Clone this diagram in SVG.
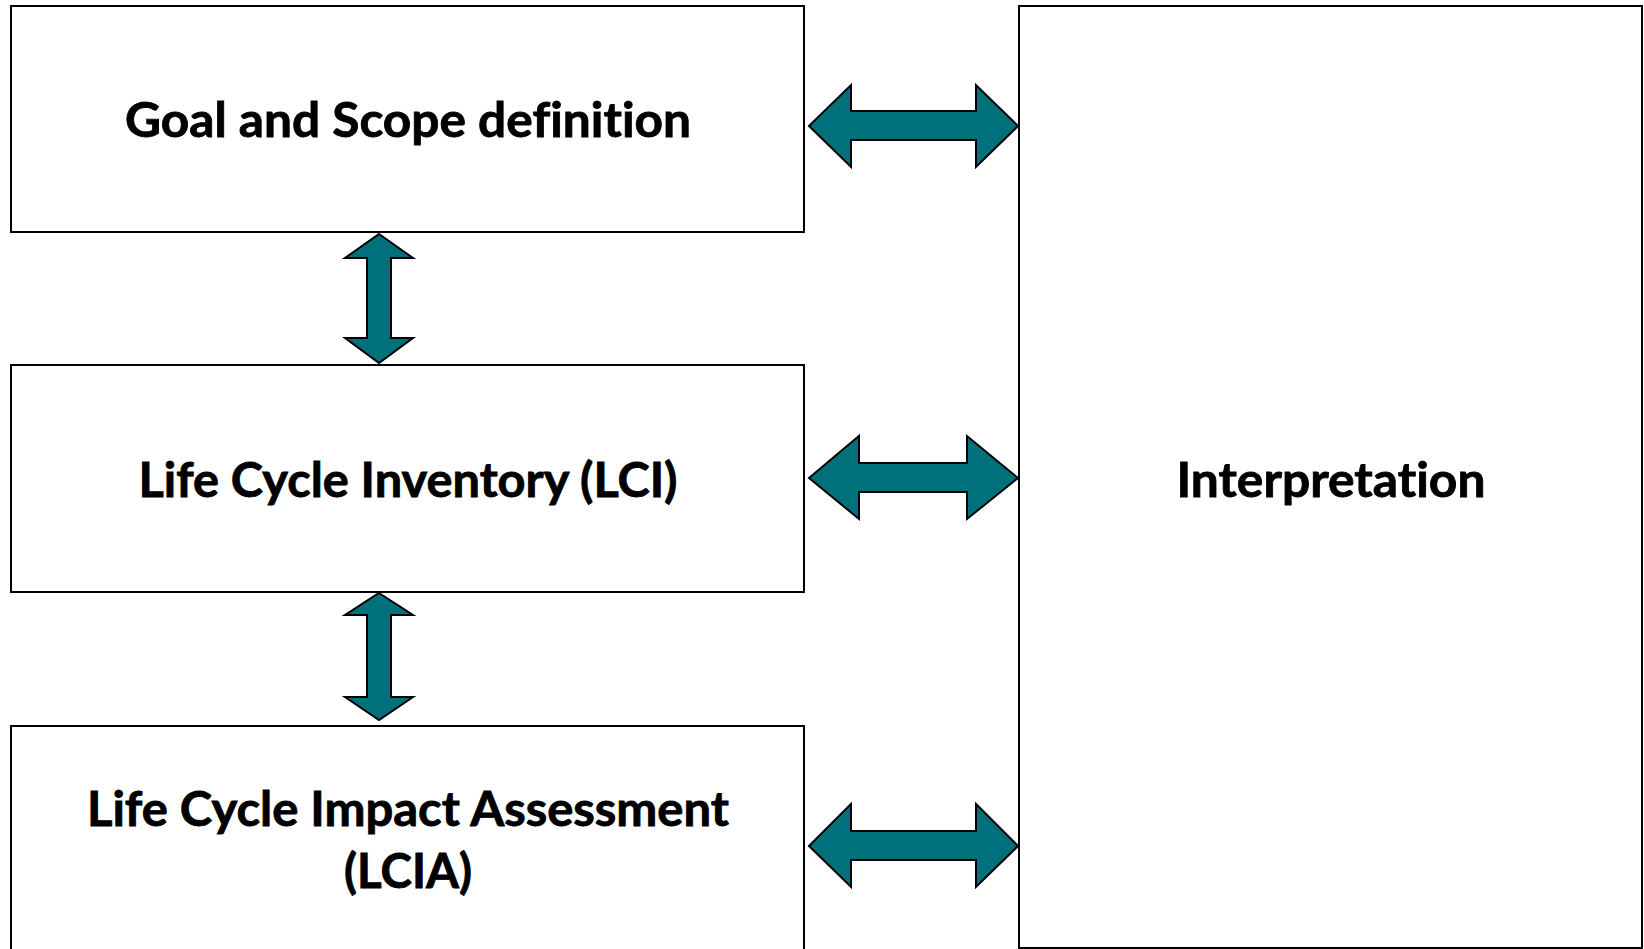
<svg xmlns="http://www.w3.org/2000/svg" width="1644" height="949" viewBox="0 0 1644 949">
<style>
.box{fill:#ffffff;stroke:#000000;stroke-width:2}
.arrow{fill:#00707B;stroke:#000000;stroke-width:2;stroke-linejoin:miter}
.lbl{font-family:Lato,"Open Sans","Liberation Sans",sans-serif;font-weight:bold;font-size:47px;fill:#000000;stroke:#000000;stroke-width:0.8;text-anchor:middle;font-variant-ligatures:none;font-feature-settings:"liga" 0,"clig" 0,"dlig" 0,"calt" 0}
</style>
<rect width="1644" height="949" fill="#ffffff"/>
<g id="goal">
<rect class="box" x="11" y="6" width="793" height="226"/>
<text class="lbl" x="408" y="137" textLength="566" lengthAdjust="spacingAndGlyphs">Goal and Scope definition</text>
</g>
<g id="lci">
<rect class="box" x="11" y="365" width="793" height="227"/>
<text class="lbl" x="408" y="497" textLength="539" lengthAdjust="spacingAndGlyphs">Life Cycle Inventory (LCI)</text>
</g>
<g id="lcia">
<rect class="box" x="11" y="726" width="793" height="240"/>
<text class="lbl" x="408" y="826" textLength="642" lengthAdjust="spacingAndGlyphs">Life Cycle Impact Assessment</text>
<text class="lbl" x="408" y="888" textLength="128" lengthAdjust="spacingAndGlyphs">(LCIA)</text>
</g>
<g id="interpretation">
<rect class="box" x="1019" y="6" width="623" height="942"/>
<text class="lbl" x="1331" y="497" textLength="309" lengthAdjust="spacingAndGlyphs">Interpretation</text>
</g>
<g id="connectors">
<polygon class="arrow" points="809,126 851,85 851,111 976,111 976,85 1018,126 976,167 976,140 851,140 851,167"/>
<polygon class="arrow" points="809,478 859,436 859,463 967,463 967,436 1018,478 967,519 967,492 859,492 859,519"/>
<polygon class="arrow" points="809,846 851,804 851,831 976,831 976,804 1018,846 976,887 976,860 851,860 851,887"/>
<polygon class="arrow" points="379,234 413,258 391,258 391,338 413,338 379,363 345,338 367,338 367,258 345,258"/>
<polygon class="arrow" points="379,593 413,615 391,615 391,697 413,697 379,720 345,697 367,697 367,615 345,615"/>
</g>
</svg>
